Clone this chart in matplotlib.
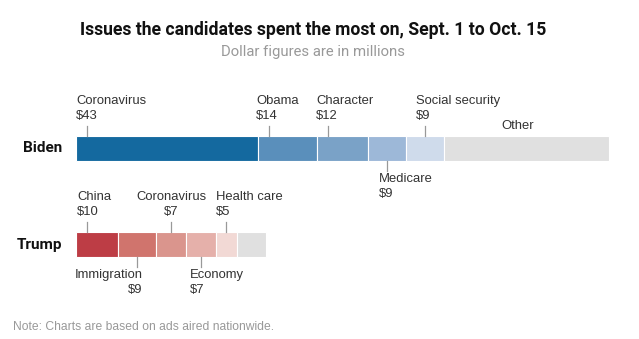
import matplotlib

matplotlib.use("Agg")

import matplotlib.pyplot as plt

TITLE = "Issues the candidates spent the most on, Sept. 1 to Oct. 15"
SUBTITLE = "Dollar figures are in millions"
NOTE = "Note: Charts are based on ads aired nationwide."

CANDIDATES = ["Biden", "Trump"]

BIDEN_ISSUES = ["Coronavirus", "Obama", "Character", "Medicare", "Social security", "Other"]
BIDEN_SPEND = [43, 14, 12, 9, 9, 39]

TRUMP_ISSUES = ["China", "Immigration", "Coronavirus", "Economy", "Health care", "Other"]
TRUMP_SPEND = [10, 9, 7, 7, 5, 7]

BIDEN_COLORS = ["#14699f", "#5a8fbb", "#7aa2c7", "#9db8d8", "#cfdbeb", "#e0e0e0"]
TRUMP_COLORS = ["#bd3d45", "#d0746d", "#da958d", "#e5b0aa", "#f2d9d5", "#e0e0e0"]

# label placement: side, horizontal alignment, offset from tick (px)
BIDEN_PLACE = [("above", "left", -11), ("above", "left", -13), ("above", "left", -12),
               ("below", "left", -8), ("above", "left", -9), ("other", "center", 0)]
TRUMP_PLACE = [("above", "left", -10), ("below", "right", 5), ("above", "center", 0),
               ("below", "left", -11), ("above", "left", -10), (None, None, 0)]

W, H = 639, 339
X0 = 76          # left edge of bars in px
K = 4.23         # px per million
BAR_H = 25
ROW_Y = [148.5, 244.5]

TEXT = "#333333"
TICK = "#999999"
FONT = "Liberation Sans"
HEAD = "Roboto"

fig = plt.figure(figsize=(W / 100, H / 100), dpi=100, facecolor="white")
ax = fig.add_axes([0, 0, 1, 1])
ax.set_xlim(-X0 / K, (W - X0) / K)
ax.set_ylim(H, 0)
ax.axis("off")


def px(v):
    return v / K


rows = [
    (BIDEN_ISSUES, BIDEN_SPEND, BIDEN_COLORS, BIDEN_PLACE),
    (TRUMP_ISSUES, TRUMP_SPEND, TRUMP_COLORS, TRUMP_PLACE),
]

for (issues, spend, colors, place), name, yc in zip(rows, CANDIDATES, ROW_Y):
    left = 0
    top = yc - BAR_H / 2
    bottom = yc + BAR_H / 2
    for issue, val, col, (side, ha, dx) in zip(issues, spend, colors, place):
        ax.barh(yc, val, left=left, height=BAR_H, color=col,
                edgecolor="white", linewidth=0.8)
        # narrow segments get the tick in the middle, wide ones near the start
        tick_x = left + (val / 2 if val * K < 40 else px(11))
        label = f"{issue}\n${val}"
        if side == "above":
            ax.plot([tick_x, tick_x], [top - 10, top], color=TICK, lw=0.9)
            ax.text(tick_x + px(dx), top - 14, label, ha=ha, va="bottom",
                    fontsize=9.4, color=TEXT, family=FONT, linespacing=1.35,
                    multialignment=ha)
        elif side == "below":
            ax.plot([tick_x, tick_x], [bottom, bottom + 10], color=TICK, lw=0.9)
            ax.text(tick_x + px(dx), bottom + 12, label, ha=ha, va="top",
                    fontsize=9.4, color=TEXT, family=FONT, linespacing=1.35,
                    multialignment=ha)
        elif side == "other":
            ax.text(left + val / 2 - px(9), top - 4, issue, ha="center", va="bottom",
                    fontsize=9.4, color=TEXT, family=FONT)
        left += val
    ax.text(px(62 - X0), yc, name, ha="right", va="center", fontsize=11,
            fontweight="bold", color="#111111", family=HEAD)

fig.text(0.49, 1 - 30 / H, TITLE, ha="center", va="center", fontsize=12.7,
         fontweight="bold", color="#111111", family=HEAD)
fig.text(0.49, 1 - 52 / H, SUBTITLE, ha="center", va="center", fontsize=10.7,
         color="#999999", family=HEAD)
fig.text(13 / W, 1 - 327 / H, NOTE, ha="left", va="center", fontsize=8.7,
         color="#999999", family=FONT)

fig.savefig("out.png", dpi=100, facecolor="white")
